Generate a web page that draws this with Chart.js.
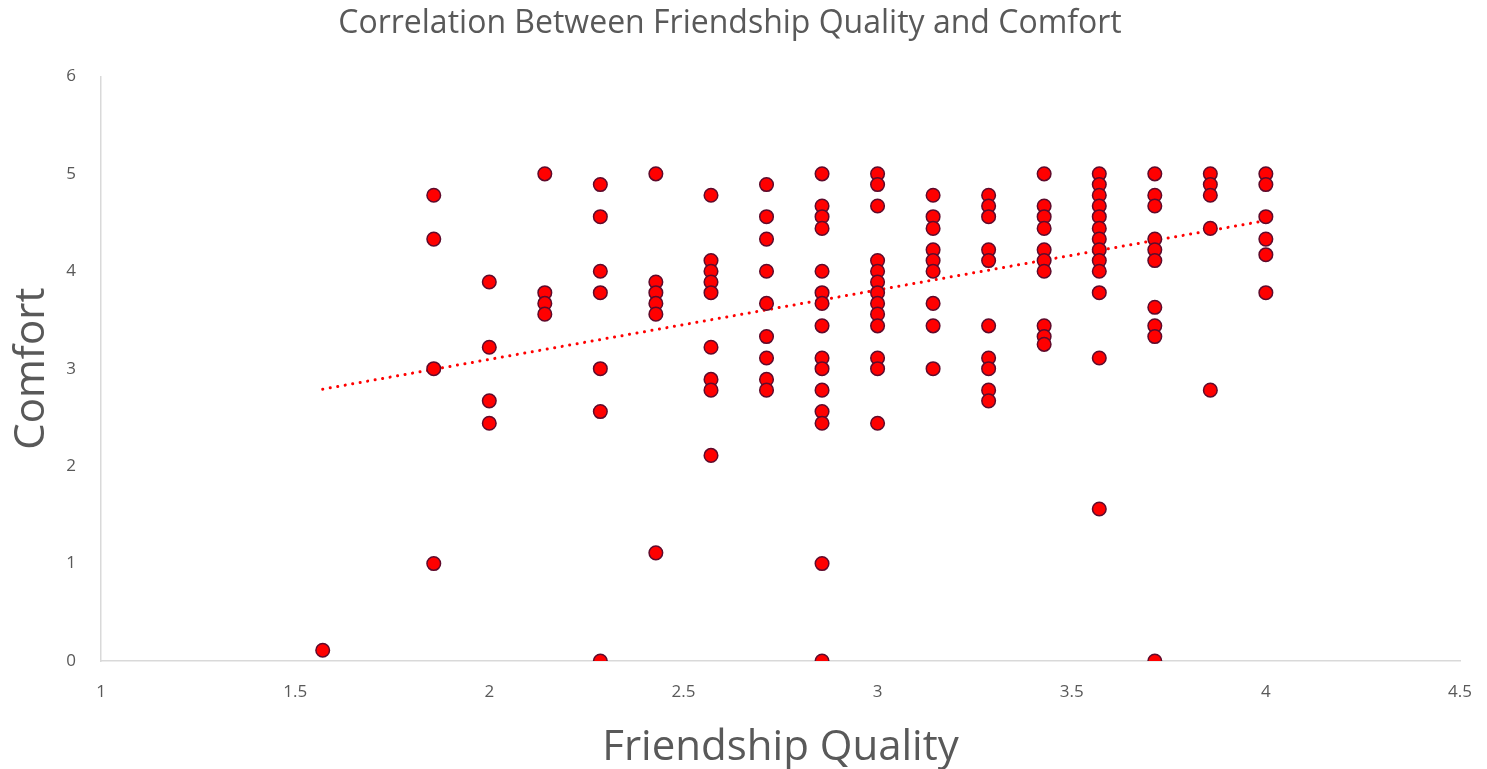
<!DOCTYPE html>
<html>
<head>
<meta charset="utf-8">
<script src="https://cdn.jsdelivr.net/npm/chart.js@4"></script>
<style>
    html, body { margin: 0; padding: 0; background: #ffffff; }
    #wrap { width: 1487px; height: 769px; position: relative; }
</style>
</head>
<body>
<div id="wrap"><canvas id="scatterChart"></canvas></div>
<script>
// Friendship quality levels (x) and the comfort scores observed at each level (y)
const qualityLevels = [1.571, 1.857, 2.0, 2.143, 2.286, 2.429, 2.571, 2.714, 2.857, 3.0, 3.143, 3.286, 3.429, 3.571, 3.714, 3.857, 4.0];
const comfortByLevel = [
    [0.11],
    [4.78, 4.33, 3.0, 1.0],
    [3.89, 3.22, 2.67, 2.44],
    [5.0, 3.78, 3.67, 3.56],
    [4.89, 4.56, 4.0, 3.78, 3.0, 2.56, 0],
    [5.0, 3.89, 3.78, 3.67, 3.56, 1.11],
    [4.78, 4.11, 4.0, 3.89, 3.78, 3.22, 2.89, 2.78, 2.11],
    [4.89, 4.56, 4.33, 4.0, 3.67, 3.33, 3.11, 2.89, 2.78],
    [5.0, 4.67, 4.56, 4.44, 4.0, 3.78, 3.67, 3.44, 3.11, 3.0, 2.78, 2.56, 2.44, 1.0, 0],
    [5.0, 4.89, 4.67, 4.11, 4.0, 3.89, 3.78, 3.67, 3.56, 3.44, 3.11, 3.0, 2.44],
    [4.78, 4.56, 4.44, 4.22, 4.11, 4.0, 3.67, 3.44, 3.0],
    [4.78, 4.67, 4.56, 4.22, 4.11, 3.44, 3.11, 3.0, 2.78, 2.67],
    [5.0, 4.67, 4.56, 4.44, 4.22, 4.11, 4.0, 3.44, 3.33, 3.25],
    [5.0, 4.89, 4.78, 4.67, 4.56, 4.44, 4.33, 4.22, 4.11, 4.0, 3.78, 3.11, 1.56],
    [5.0, 4.78, 4.67, 4.33, 4.22, 4.11, 3.63, 3.44, 3.33, 0],
    [5.0, 4.89, 4.78, 4.44, 2.78],
    [5.0, 4.89, 4.56, 4.33, 4.17, 3.78]
];

// Linear trendline end points
const trendX = [1.571, 4.0];
const trendY = [2.79, 4.52];

// Axis ticks
const xTicks = [1, 1.5, 2, 2.5, 3, 3.5, 4, 4.5];
const yTicks = [0, 1, 2, 3, 4, 5, 6];

const TEXT_GREY = '#595959';
const AXIS_GREY = '#d9d9d9';
const FONT = "'Open Sans', 'Noto Sans', sans-serif";

/**
 * Flatten the per-level lists into {x, y} points
 */
function buildPoints(levels, valuesByLevel) {
    const points = [];
    levels.forEach((x, i) => {
        valuesByLevel[i].forEach(y => points.push({ x: x, y: y }));
    });
    return points;
}

const trendPoints = trendX.map((x, i) => ({ x: x, y: trendY[i] }));

const ctx = document.getElementById('scatterChart').getContext('2d');
new Chart(ctx, {
    type: 'scatter',
    data: {
        datasets: [
            {
                label: 'Trendline',
                type: 'line',
                data: trendPoints,
                borderColor: '#ff0000',
                borderWidth: 3,
                borderDash: [0.1, 7.5],
                borderCapStyle: 'round',
                pointRadius: 0,
                fill: false,
                order: 2
            },
            {
                label: 'Comfort',
                data: buildPoints(qualityLevels, comfortByLevel),
                backgroundColor: '#ff0000',
                borderColor: '#5e0b2c',
                borderWidth: 1.5,
                pointRadius: 6.8,
                pointHoverRadius: 6.8,
                order: 1
            }
        ]
    },
    options: {
        responsive: true,
        maintainAspectRatio: false,
        animation: false,
        layout: { padding: { left: 0, right: 27, top: 0, bottom: 0 } },
        plugins: {
            legend: { display: false },
            tooltip: { enabled: false },
            title: {
                display: true,
                text: 'Correlation Between Friendship Quality and Comfort',
                color: TEXT_GREY,
                font: { family: FONT, size: 32, weight: 'normal', lineHeight: 1.2 },
                padding: { top: 5, bottom: 33 }
            }
        },
        scales: {
            x: {
                type: 'linear',
                min: 1,
                max: 4.5,
                afterBuildTicks: (scale) => { scale.ticks = xTicks.map(v => ({ value: v })); },
                afterFit: (scale) => {
                    scale.height = 108;
                    scale.paddingRight = 0;
                    scale.paddingLeft = 0;
                },
                grid: { display: false, drawTicks: false },
                border: { display: true, color: AXIS_GREY, width: 1.5 },
                ticks: {
                    color: TEXT_GREY,
                    font: { family: FONT, size: 17 },
                    padding: 21,
                    maxRotation: 0,
                    callback: (v) => String(v)
                },
                title: {
                    display: true,
                    text: 'Friendship Quality',
                    color: TEXT_GREY,
                    font: { family: FONT, size: 42, lineHeight: 1 },
                    padding: { top: 0, bottom: 0 }
                }
            },
            y: {
                type: 'linear',
                min: 0,
                max: 6,
                afterBuildTicks: (scale) => { scale.ticks = yTicks.map(v => ({ value: v })); },
                afterFit: (scale) => { scale.width = 101; },
                grid: { display: false, drawTicks: false },
                border: { display: true, color: AXIS_GREY, width: 1.5 },
                ticks: {
                    color: TEXT_GREY,
                    font: { family: FONT, size: 17 },
                    padding: 25,
                    callback: (v) => String(v)
                },
                title: {
                    display: true,
                    text: 'Comfort',
                    color: TEXT_GREY,
                    font: { family: FONT, size: 42, lineHeight: 1 },
                    padding: { top: 11, bottom: 0 }
                }
            }
        }
    }
});
</script>
</body>
</html>
